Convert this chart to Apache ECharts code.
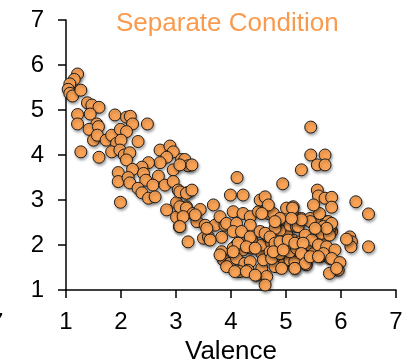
<!DOCTYPE html>
<html style="height: 100%">
	<head>
		<meta charset="utf-8" />
		<title>Separate Condition</title>
		<script src="https://cdn.jsdelivr.net/npm/echarts@6/dist/echarts.min.js"></script>
	</head>
	<body style="height: 100%; margin: 0; background: #fff">
		<div id="container" style="width: 407px; height: 363px"></div>
		<script type="text/javascript">
			// tick labels shared by both axes
			const tickValues = [1, 2, 3, 4, 5, 6, 7];

			// [valence, rating], grouped by area
			const steepPoints = [
				[1.21,5.8],[1.15,5.68],[1.07,5.58],[1.04,5.46],[1.07,5.37],[1.12,5.31],[1.27,5.44],[1.39,5.16],
				[1.47,5.11],[1.6,5.06],[1.21,4.9],[1.44,4.91],[1.21,4.69],[1.89,4.89],[2.1,4.84],[2.17,4.86],
				[2.21,4.69],[2.48,4.69],[1.56,4.69],[1.42,4.57],[1.59,4.63],[1.5,4.33],[1.57,4.44],[1.73,4.33],
				[1.83,4.44],[1.99,4.57],[2.1,4.52],[1.92,4.26],[2.0,4.33],[2.31,4.3],[1.27,4.07],[1.6,3.95],
				[1.83,4.07],[1.98,4.11],[2.06,4.0],[2.16,4.05],[2.1,3.89],[2.71,4.11],[2.89,4.2],[2.95,4.07],
				[2.83,3.95],[2.71,3.83],[2.5,3.83],[2.38,3.73],[2.21,3.68],[1.95,3.61],[1.95,3.41],[2.13,3.5],
				[2.16,3.38],[2.41,3.59],[2.45,3.44],[2.68,3.53],[2.58,3.33],[2.31,3.26],[2.38,3.16],[2.5,3.04],
				[2.62,3.07],[2.8,3.33],[2.95,3.67],[2.95,3.41],[3.1,3.9],[3.16,3.9],[3.22,3.76],[3.04,3.22],
				[3.2,3.16],[2.83,2.78],[3.01,2.94],[3.1,2.74],[3.19,2.85],[3.01,2.62],[3.06,2.41],[1.99,2.95]
			];
			const middlePoints = [
				[3.07,3.78],[3.29,3.78],[4.11,3.5],[3.07,3.18],[3.19,3.15],[3.29,3.22],[3.99,3.11],[4.22,3.11],
				[3.68,2.89],[3.07,2.85],[3.19,2.82],[3.31,2.7],[3.44,2.79],[3.13,2.63],[3.38,2.52],[3.53,2.44],
				[3.71,2.44],[3.8,2.63],[3.89,2.44],[3.07,2.41],[3.22,2.07],[3.5,2.15],[3.59,2.18],[3.83,2.17],
				[3.35,2.67],[3.56,2.37],[3.62,2.11],[3.92,2.48]
			];
			const clusterPoints = [
				[4.04,2.74],[4.22,2.7],[4.35,2.63],[4.5,2.74],[4.65,2.85],[4.68,2.7],[4.53,3.0],[4.62,3.07],
				[4.1,2.48],[4.35,2.44],[4.04,2.3],[4.25,2.11],[4.38,2.11],[4.1,2.0],[4.04,1.93],[4.22,1.89],
				[4.38,1.93],[3.83,1.85],[3.86,1.67],[3.98,1.59],[4.1,1.7],[4.25,1.59],[4.35,1.63],[3.92,1.52],
				[4.16,1.41],[4.31,1.44],[4.47,1.33],[4.56,1.48],[4.65,1.3],[4.62,1.11],[4.56,1.81],[4.59,1.67],
				[4.56,2.0],[4.68,2.18],[4.74,2.04],[4.71,1.85],[4.89,1.74],[5.01,1.93],[4.95,1.56],[4.8,1.52],
				[5.07,1.67],[5.16,1.63],[5.19,1.89],[5.13,2.11],[5.01,2.26],[4.89,2.33],[5.07,2.44],[4.83,2.52],
				[4.8,2.37],[5.16,2.63],[5.01,2.82],[4.77,2.7],[4.89,2.59],[5.13,2.85],[5.19,2.41],[3.8,1.78],
				[4.07,1.41],[4.28,1.41],[4.44,1.33],[4.74,1.7],[4.89,1.81],[5.07,1.85],[4.92,1.48],[5.16,1.48],
				[5.37,1.56],[5.62,1.74],[5.8,1.7],[5.37,1.74],[4.19,2.3],[4.35,2.18],[4.13,2.04],[4.28,1.96],
				[4.04,1.85],[4.44,1.93],[4.53,2.3],[4.62,2.26],[4.71,2.18],[4.8,2.04],[4.89,2.07],[5.04,2.11],
				[5.25,2.07],[5.19,1.93],[5.31,1.93],[5.47,1.96],[5.56,2.07],[5.5,1.81],[5.68,2.18],[5.83,2.3],
				[4.77,1.85],[4.95,1.89],[4.68,2.89],[4.56,2.7],[4.8,2.52],[5.22,2.41],[5.28,2.59],[5.44,2.59],
				[5.62,2.59],[5.74,2.52]
			];
			const rightPoints = [
				[5.61,2.7],[5.77,2.52],[5.68,2.41],[5.8,2.37],[5.65,2.26],[5.79,2.22],[5.44,2.52],[5.28,2.56],
				[5.35,2.22],[5.47,2.11],[5.16,2.04],[5.31,2.04],[5.59,2.0],[5.74,1.96],[5.89,1.89],[5.68,1.81],
				[5.83,1.7],[5.98,1.61],[5.95,1.44],[5.79,1.37],[5.28,1.81],[5.35,1.59],[5.16,1.48],[5.44,1.74],
				[5.59,1.74],[5.12,2.82],[5.1,2.59],[5.83,2.48],[5.74,2.37],[5.53,2.37],[5.92,1.48]
			];
			const outlierPoints = [
				[4.94,3.36],[5.45,4.62],[5.45,4.0],[5.71,4.0],[5.57,3.78],[5.71,3.78],[5.28,3.67],[5.57,3.22],
				[5.59,3.09],[5.71,3.04],[5.83,3.06],[5.83,2.84],[5.5,2.89],[6.27,2.96],[6.5,2.69],[6.5,1.96],
				[6.16,2.18],[6.19,2.07],[6.18,1.96],[6.1,2.13]
			];

			const allPoints = steepPoints.concat(middlePoints, clusterPoints, rightPoints, outlierPoints);
			const font = "'Liberation Sans', Arial, sans-serif";

			const axisCommon = {
				min: tickValues[0],
				max: tickValues[tickValues.length - 1],
				interval: 1,
				splitLine: { show: false },
				axisLine: { lineStyle: { color: '#000', width: 1.5 } },
				axisTick: { show: true, inside: false, length: 8, lineStyle: { color: '#000', width: 1.5 } },
			};

			let chart = echarts.init(document.getElementById('container'));
			chart.setOption({
				animation: false,
				title: {
					text: 'Separate Condition',
					left: 111,
					top: 6,
					textStyle: { color: '#f99b4f', fontSize: 26, fontWeight: 'normal', fontFamily: font },
				},
				grid: { left: 66, right: 11, top: 20, bottom: 73, outerBoundsMode: 'none', containLabel: false },
				xAxis: Object.assign({}, axisCommon, {
					type: 'value',
					name: 'Valence',
					nameLocation: 'middle',
					nameGap: 45,
					nameTextStyle: { color: '#000', fontSize: 26, fontFamily: font },
					axisLabel: { color: '#000', fontSize: 24, fontFamily: font, margin: 20 },
				}),
				yAxis: Object.assign({}, axisCommon, {
					type: 'value',
					axisLabel: { color: '#000', fontSize: 24, fontFamily: font, margin: 22 },
				}),
				graphic: [
					// clipped label at the left edge
					{ type: 'text', left: -10, top: 311, style: { text: '7', fontSize: 24, fontFamily: font, fill: '#000' } },
				],
				series: [{
					type: 'scatter',
					data: allPoints,
					symbolSize: 12,
					itemStyle: {
						color: '#faa356',
						borderColor: '#1a1a1a',
						borderWidth: 1,
						opacity: 1,
						shadowBlur: 3,
						shadowOffsetX: 1,
						shadowOffsetY: 2,
						shadowColor: 'rgba(0,0,0,0.35)',
					},
				}],
			});
		</script>
	</body>
</html>
